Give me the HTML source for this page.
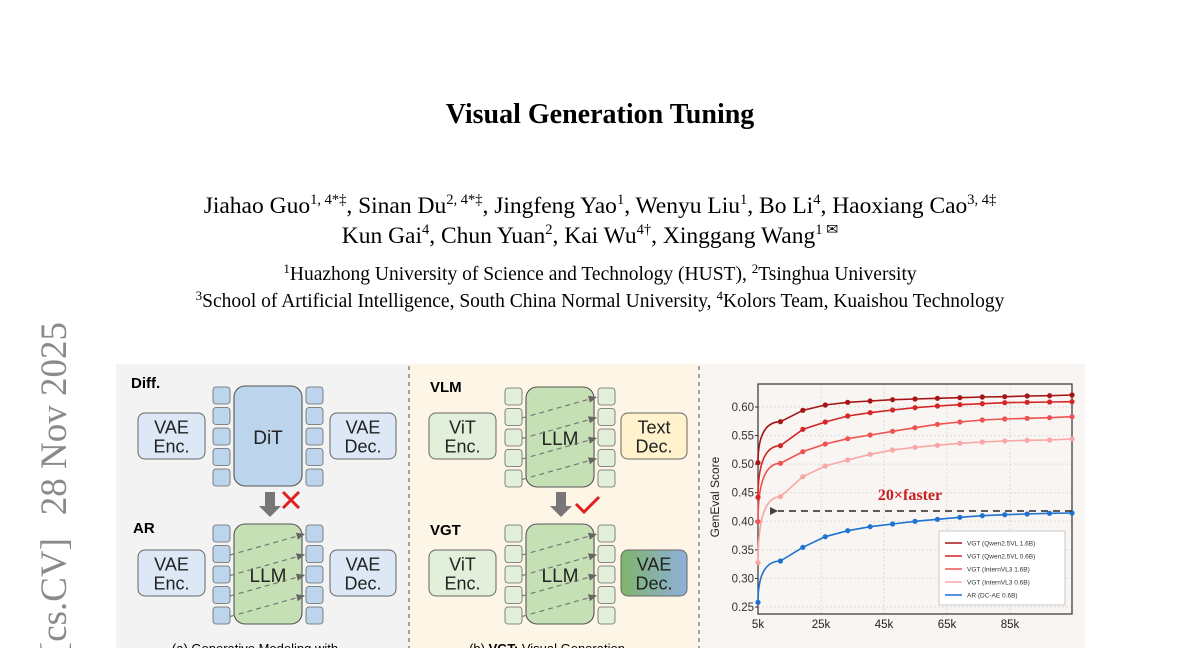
<!DOCTYPE html>
<html><head><meta charset="utf-8"><style>
html,body{margin:0;padding:0;background:#fff;overflow:hidden;}
svg{display:block;}
.serif{font-family:"Liberation Serif",serif;}
.sans{font-family:"Liberation Sans",sans-serif;}
</style></head><body>
<svg id="s" width="1200" height="648" viewBox="0 0 1200 648" xmlns="http://www.w3.org/2000/svg">
<defs>
<linearGradient id="vg" x1="0" x2="1" y1="0" y2="0"><stop offset="0" stop-color="#7fb46a"/><stop offset="1" stop-color="#8fb0dc"/></linearGradient>
<marker id="ah" markerWidth="8" markerHeight="8" refX="7" refY="4" orient="auto"><path d="M0,1 L7,4 L0,7 Z" fill="#666"/></marker>
<marker id="ah2" markerWidth="12" markerHeight="12" refX="1" refY="5" orient="auto" markerUnits="userSpaceOnUse"><path d="M9,1 L1,5 L9,9 Z" fill="#444"/></marker>
</defs>
<text x="600" y="123" text-anchor="middle" class="serif" font-weight="bold" font-size="28">Visual Generation Tuning</text>
<g class="serif" font-size="23.5" text-anchor="middle">
<text x="600" y="213">Jiahao Guo<tspan font-size="14.5" dy="-9">1, 4*‡</tspan><tspan dy="9">, Sinan Du</tspan><tspan font-size="14.5" dy="-9">2, 4*‡</tspan><tspan dy="9">, Jingfeng Yao</tspan><tspan font-size="14.5" dy="-9">1</tspan><tspan dy="9">, Wenyu Liu</tspan><tspan font-size="14.5" dy="-9">1</tspan><tspan dy="9">, Bo Li</tspan><tspan font-size="14.5" dy="-9">4</tspan><tspan dy="9">, Haoxiang Cao</tspan><tspan font-size="14.5" dy="-9">3, 4‡</tspan></text>
<text x="590" y="243">Kun Gai<tspan font-size="14.5" dy="-9">4</tspan><tspan dy="9">, Chun Yuan</tspan><tspan font-size="14.5" dy="-9">2</tspan><tspan dy="9">, Kai Wu</tspan><tspan font-size="14.5" dy="-9">4†</tspan><tspan dy="9">, Xinggang Wang</tspan><tspan font-size="14.5" dy="-9">1 ✉</tspan></text>
</g>
<g class="serif" font-size="19.5" text-anchor="middle">
<text x="600" y="280"><tspan font-size="13" dy="-7">1</tspan><tspan dy="7">Huazhong University of Science and Technology (HUST), </tspan><tspan font-size="13" dy="-7">2</tspan><tspan dy="7">Tsinghua University</tspan></text>
<text x="600" y="307"><tspan font-size="13" dy="-7">3</tspan><tspan dy="7">School of Artificial Intelligence, South China Normal University, </tspan><tspan font-size="13" dy="-7">4</tspan><tspan dy="7">Kolors Team, Kuaishou Technology</tspan></text>
</g>
<g transform="translate(66,322) rotate(-90)" class="serif" font-size="37" fill="#8a8a8a">
<text x="0" y="0" text-anchor="end">28 Nov 2025</text>
<text x="-216" y="0" text-anchor="end">arXiv:2511.23469v1 [cs.CV]</text>
</g>
<rect x="116" y="364" width="293" height="284" fill="#f3f3f3"/>
<rect x="409" y="364" width="291" height="284" fill="#fdf6e7"/>
<rect x="700" y="364" width="385" height="284" fill="#f8f5f2"/>
<line x1="409" y1="366" x2="409" y2="648" stroke="#777" stroke-width="1.3" stroke-dasharray="4,4"/>
<line x1="699" y1="366" x2="699" y2="648" stroke="#777" stroke-width="1.3" stroke-dasharray="4,4"/>
<g id="diag" class="sans"></g>
<text x="131" y="388" class="sans" font-weight="bold" font-size="15">Diff.</text>
<text x="133" y="533" class="sans" font-weight="bold" font-size="15">AR</text>
<text x="430" y="392" class="sans" font-weight="bold" font-size="15">VLM</text>
<text x="430" y="535" class="sans" font-weight="bold" font-size="15">VGT</text>
<text x="255" y="653" text-anchor="middle" class="sans" font-size="13">(a) Generative Modeling with</text>
<text x="547" y="653" text-anchor="middle" class="sans" font-size="13">(b) <tspan font-weight="bold">VGT:</tspan> Visual Generation</text>
<path d="M265,492 h10 v14 h6 l-11,11 l-11,-11 h6 z" fill="#777"/>
<path d="M283,492 l16,16 M299,492 l-16,16" stroke="#e02020" stroke-width="3"/>
<path d="M556,492 h10 v14 h6 l-11,11 l-11,-11 h6 z" fill="#777"/>
<path d="M576,504 l8,8 l15,-15" stroke="#e02020" stroke-width="3" fill="none"/>
<g id="chart" class="sans"></g>
</svg>
<script>
const NS="http://www.w3.org/2000/svg";
function el(p,t,a,txt){const e=document.createElementNS(NS,t);for(const k in a)e.setAttribute(k,a[k]);if(txt!==undefined)e.textContent=txt;p.appendChild(e);return e;}
const D=document.getElementById('diag');
function box(x,y,w,h,fill,lines){el(D,'rect',{x,y,width:w,height:h,rx:7,fill,stroke:'#666','stroke-width':1});
 lines.forEach((l,i)=>el(D,'text',{x:x+w/2,y:y+h/2+(i-(lines.length-1)/2)*19+7,'text-anchor':'middle','font-size':18,fill:'#222'},l));}
function tokens(x,y,fill){for(let i=0;i<5;i++)el(D,'rect',{x,y:y+i*20.5,width:17,height:17,rx:3,fill,stroke:'#666','stroke-width':0.8});}
function block(lx,y,fill,tfill,label,dashed){
 tokens(lx,y,tfill);tokens(lx+93,y,tfill);
 el(D,'rect',{x:lx+21,y:y-1,width:68,height:100,rx:11,fill,stroke:'#555','stroke-width':1.1});
 el(D,'text',{x:lx+55,y:y+57,'text-anchor':'middle','font-size':19,fill:'#222'},label);
 if(dashed){for(let i=0;i<4;i++)el(D,'line',{x1:lx+17,y1:y+30+i*20.5,x2:lx+92,y2:y+9+i*20.5,stroke:'#777','stroke-width':1.2,'stroke-dasharray':'5,4','marker-end':'url(#ah)'});}
}
box(138,413,67,46,'#dce8f5',['VAE','Enc.']);box(330,413,66,46,'#dce8f5',['VAE','Dec.']);
block(213,387,'#bcd5ec','#bcd5ec','DiT',false);
box(138,550,67,46,'#dce8f5',['VAE','Enc.']);box(330,550,66,46,'#dce8f5',['VAE','Dec.']);
block(213,525,'#c5e0b4','#bcd5ec','LLM',true);
box(429,413,67,46,'#e2efdb',['ViT','Enc.']);box(621,413,66,46,'#fff2cc',['Text','Dec.']);
block(505,388,'#c5e0b4','#e2efdb','LLM',true);
box(429,550,67,46,'#e2efdb',['ViT','Enc.']);box(621,550,66,46,'url(#vg)',['VAE','Dec.']);
block(505,525,'#c5e0b4','#e2efdb','LLM',true);
const C=document.getElementById('chart');
const X0=758,X1=1072,Y0=384,Y1=614;
el(C,'rect',{x:X0,y:Y0,width:X1-X0,height:Y1-Y0,fill:'#f8f5f2'});
const vy=v=>407+(0.60-v)/0.05*28.57;
[0.25,0.30,0.35,0.40,0.45,0.50,0.55,0.60].forEach(v=>{const y=vy(v);
 el(C,'line',{x1:X0,y1:y,x2:X1,y2:y,stroke:'#ddd','stroke-dasharray':'2,2'});
 el(C,'line',{x1:X0-3,y1:y,x2:X0,y2:y,stroke:'#333'});
 el(C,'text',{x:X0-4,y:y+4,'text-anchor':'end','font-size':11.5,fill:'#333'},v.toFixed(2));});
[[5,'5k'],[25,'25k'],[45,'45k'],[65,'65k'],[85,'85k']].forEach(([k,l])=>{const x=X0+(k-5)*3.15;
 el(C,'line',{x1:x,y1:Y0,x2:x,y2:Y1,stroke:'#ddd','stroke-dasharray':'2,2'});
 el(C,'text',{x,y:Y1+14,'text-anchor':'middle','font-size':11.5,fill:'#222'},l);});
el(C,'rect',{x:X0,y:Y0,width:X1-X0,height:Y1-Y0,fill:'none',stroke:'#333','stroke-width':1.2});
el(C,'text',{transform:'translate(719,497) rotate(-90)','text-anchor':'middle','font-size':12,fill:'#222'},'GenEval Score');
const series=[
 ['#f9a6a6',[608,410,350,318,300,283,270,262,256,250,246,243,241,240,237]],
 ['#f05252',[485,310,275,252,236,225,214,203,193,186,180,177,175,173,170]],
 ['#d42626',[412,257,208,186,168,158,150,143,138,134,131,128,127,126,125]],
 ['#a51515',[308,185,151,135,127,123,119,117,115,113,111,110,108,107,105]],
 ['#1f72d2',[727,603,562,530,512,500,492,484,478,472,467,464,462,460,459]]];
series.forEach(([c,zs])=>{const pts=zs.map((z,i)=>[X0+i*22.43,360+z/3]);
 let d='M'+pts[0][0]+','+pts[0][1];
 for(let i=1;i<pts.length;i++){const p0=pts[i-1],p1=pts[i];const mx=(p0[0]+p1[0])/2;
  d+=i==1?` C${p0[0]},${p0[1]-(p0[1]-p1[1])*0.7} ${p0[0]+8},${p1[1]} ${p1[0]},${p1[1]}`:` Q${mx},${(p0[1]+p1[1])/2} ${p1[0]},${p1[1]}`;}
 el(C,'path',{d,fill:'none',stroke:c,'stroke-width':1.6});
 pts.forEach(p=>el(C,'circle',{cx:p[0],cy:p[1],r:2.6,fill:c}));});
el(C,'line',{x1:X1,y1:511,x2:778,y2:511,stroke:'#444','stroke-width':1.8,'stroke-dasharray':'7,5','marker-end':'url(#ah2)'});
el(C,'text',{x:910,y:500,'text-anchor':'middle','font-size':16,'font-weight':'bold',fill:'#c81e1e','font-family':'Liberation Serif,serif'},'20×faster');
el(C,'rect',{x:939,y:531,width:126,height:74,fill:'#fff',stroke:'#bbb','stroke-width':0.8});
const leg=[['#a51515','VGT (Qwen2.5VL 1.6B)'],['#d42626','VGT (Qwen2.5VL 0.6B)'],['#f05252','VGT (InternVL3 1.6B)'],['#f9a6a6','VGT (InternVL3 0.6B)'],['#1f72d2','AR   (DC-AE 0.6B)']];
leg.forEach(([c,t],i)=>{const y=543+i*13;el(C,'line',{x1:945,y1:y,x2:962,y2:y,stroke:c,'stroke-width':1.6});
 el(C,'text',{x:967,y:y+2.5,'font-size':6.5,fill:'#333'},t);});
</script>
</body></html>
